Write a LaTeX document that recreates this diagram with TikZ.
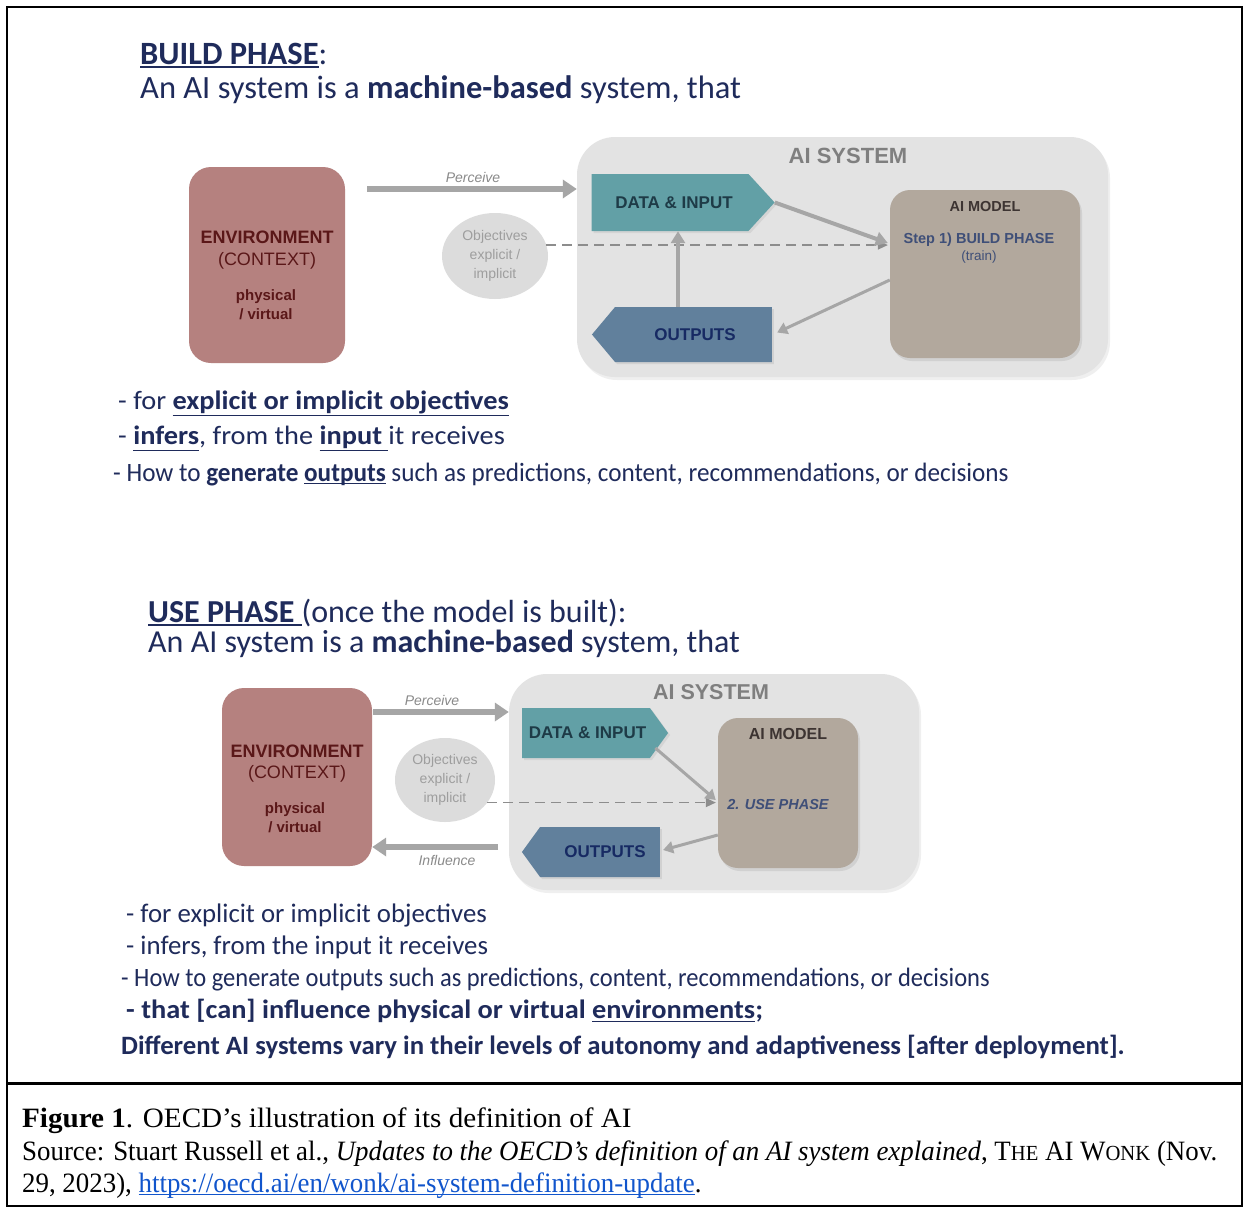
\documentclass[tikz,border=0pt]{standalone}
\usepackage{fontspec}
\setmainfont{Liberation Serif}
\newfontfamily\capA{Liberation Serif}[FakeStretch=1.04]
\newfontfamily\capB{Liberation Serif}[FakeStretch=0.96]
\newfontfamily\slide{Carlito}
\newfontfamily\slideW{Carlito}[FakeStretch=1.07]
\newfontfamily\slideB{Carlito}[FakeStretch=0.95]
\newfontfamily\slideU{Carlito}[FakeStretch=0.925]
\newfontfamily\slideD{Carlito}[FakeStretch=1.01]
\newfontfamily\arf{Liberation Sans}
\usetikzlibrary{shapes.arrows,shapes.symbols,shapes.geometric,arrows.meta,shadows}
\newsavebox{\myulbox}
\newcommand\myul[3][4pt]{\sbox{\myulbox}{#3}\leavevmode\rlap{\rule[-#1]{\wd\myulbox}{#2}}\usebox{\myulbox}}
\definecolor{navy}{HTML}{1F2B5B}
\definecolor{envfill}{HTML}{B5817F}
\definecolor{envtext}{HTML}{5A1718}
\definecolor{sysfill}{HTML}{E3E3E3}
\definecolor{systext}{HTML}{7F7F7F}
\definecolor{datafill}{HTML}{62A0A6}
\definecolor{datatext}{HTML}{1E3B47}
\definecolor{outfill}{HTML}{61809C}
\definecolor{outtext}{HTML}{172A63}
\definecolor{modelfill}{HTML}{B2A89D}
\definecolor{modeltext}{HTML}{3D3432}
\definecolor{steptext}{HTML}{3F4F78}
\definecolor{arrowgray}{HTML}{A6A6A6}
\definecolor{objfill}{HTML}{DCDCDC}
\definecolor{objtext}{HTML}{9E9E9E}
\definecolor{perctext}{HTML}{8A8A8A}
\definecolor{linkblue}{HTML}{1155CC}
\tikzset{
  txt/.style={anchor=base west, inner sep=0pt, navy, font=\slide\fontsize{32}{36}\selectfont},
  bul/.style={anchor=base west, inner sep=0pt, navy, font=\fontsize{26.5}{30}\selectfont},
  captxt/.style={anchor=base west, inner sep=0pt, black, font=\fontsize{28}{32}\selectfont},
  envbox/.style={draw=none, fill=envfill, rounded corners=22pt, align=center, text=envtext, inner sep=0pt},
  sysbox/.style={draw=none, fill=sysfill, rounded corners=38pt, drop shadow={opacity=0.12, shadow xshift=2pt, shadow yshift=-3pt}},
  modelbox/.style={draw=none, fill=modelfill, rounded corners=20pt, drop shadow={opacity=0.18, shadow xshift=2pt, shadow yshift=-3pt}},
  objell/.style={ellipse, draw=none, fill=objfill, align=center, text=objtext, inner sep=0pt, font=\arf\fontsize{14}{19}\selectfont},
  datasig/.style={signal, signal to=east, signal from=nowhere, fill=datafill, draw=none, text=datatext, inner sep=0pt, font=\arf\bfseries\fontsize{17}{20}\selectfont, drop shadow={opacity=0.15, shadow xshift=2pt, shadow yshift=-2pt}},
  outsig/.style={signal, signal to=west, signal from=nowhere, fill=outfill, draw=none, text=outtext, inner sep=0pt, font=\arf\bfseries\fontsize{17}{20}\selectfont, drop shadow={opacity=0.18, shadow xshift=2pt, shadow yshift=-2pt}},
  bigarrow/.style={draw=arrowgray, line width=6pt, -{Triangle[length=14pt,width=18pt]}},
  midarrow/.style={draw=arrowgray, line width=4pt, -{Triangle[length=12pt,width=14pt]}},
  thinarrow/.style={draw=arrowgray, line width=3pt, -{Triangle[length=10pt,width=12pt]}},
  dasharrow/.style={draw=arrowgray!85!black, line width=1.3pt, dash pattern=on 10pt off 6pt, -{Triangle[length=10pt,width=9pt]}},
  lbl/.style={inner sep=0pt, text=perctext, font=\arf\itshape\fontsize{14}{16}\selectfont},
}
\begin{document}
\begin{tikzpicture}[x=1pt,y=-1pt]
\useasboundingbox (0,0) rectangle (1244,1208);
\fill[white] (0,0) rectangle (1244,1208);
% frame
\draw[line width=2.2pt] (7,7) rectangle (1242,1206);
\draw[line width=3pt] (7,1083) -- (1242,1083);

%================ BUILD PHASE =================
\node[txt, font=\slide\fontsize{32.5}{36}\selectfont] (t1) at (140,64) {\myul[4pt]{1.6pt}{\bfseries BUILD PHASE}:};
\node[txt, font=\slide\fontsize{32.5}{36}\selectfont] (t2) at (140,98) {An AI system is a \textbf{machine-based} system, that};

\node[envbox, minimum width=156pt, minimum height=196pt] (env1) at (267,265) {};
\node[text=envtext, font=\arf\bfseries\fontsize{18}{20}\selectfont] (env1a) at (267,237) {ENVIRONMENT};
\node[text=envtext, font=\arf\fontsize{18}{20}\selectfont] (env1b) at (267,261) {(CONTEXT)};
\node[text=envtext, font=\arf\bfseries\fontsize{15}{19}\selectfont, align=center] (env1c) at (266,305) {physical\\/ virtual};

\node[sysbox, minimum width=531pt, minimum height=240pt] (sys1) at (842.5,257) {};
\node[text=systext, font=\arf\bfseries\fontsize{22}{24}\selectfont] (sys1t) at (848,156) {AI SYSTEM};

\node[datasig, minimum width=183pt, minimum height=57pt, signal pointer angle=95] (data1) at (670,202.5) {\hspace*{8pt}DATA \& INPUT};
\node[outsig, minimum width=180pt, minimum height=55pt, signal pointer angle=100] (out1) at (693.5,334.5) {\hspace*{3pt}OUTPUTS};
\node[modelbox, minimum width=190pt, minimum height=168pt] (model1) at (985,274) {};
\node[text=modeltext, font=\arf\bfseries\fontsize{14.5}{16}\selectfont] (model1t) at (985,207) {AI MODEL};
\node[text=steptext, font=\arf\bfseries\fontsize{14.5}{16}\selectfont] (model1s) at (979,240) {Step 1) BUILD PHASE};
\node[text=steptext, font=\arf\fontsize{13.5}{16}\selectfont] (model1r) at (979,257) {(train)};

\node[objell, minimum width=106pt, minimum height=86pt] (obj1) at (495,256) {Objectives\\explicit /\\implicit};

\coordinate (p1s) at (367,189);
\draw[bigarrow] (p1s) -- (p1s -| sys1.west);
\node[lbl] (perc1) at (473,177) {Perceive};

\draw[dasharrow] (obj1.12) -- ([xshift=-2pt]obj1.12 -| model1.west);
\draw[midarrow] (data1.east) -- ([xshift=-2pt,yshift=31pt]model1.west);
\draw[thinarrow] ([yshift=-6pt]model1.west) -- ([xshift=5pt,yshift=2pt]out1.east);
\draw[midarrow] (out1.north -| 678,0) -- (678,0 |- data1.south);

\node[bul, font=\slideW\fontsize{26.5}{30}\selectfont] (b1) at (118,409) {- for \myul[7pt]{1.5pt}{\bfseries explicit or implicit objectives}};
\node[bul, font=\slideW\fontsize{26.5}{30}\selectfont] (b2) at (118,444) {- \myul[7pt]{1.5pt}{\bfseries infers}, from the \myul[7pt]{1.5pt}{\bfseries input }it receives};
\node[bul, font=\slideB\fontsize{26.5}{30}\selectfont] (b3) at (113,481) {- How to \textbf{generate \myul[3pt]{1.5pt}{outputs}} such as predictions, content, recommendations, or decisions};

%================ USE PHASE =================
\node[txt] (u1) at (148,622) {\myul[4pt]{1.6pt}{\bfseries USE PHASE }(once the model is built):};
\node[txt] (u2) at (148,652) {An AI system is a \textbf{machine-based} system, that};

\node[envbox, minimum width=150pt, minimum height=178pt] (env2) at (297,777) {};
\node[text=envtext, font=\arf\bfseries\fontsize{18}{20}\selectfont] (env2a) at (297,751) {ENVIRONMENT};
\node[text=envtext, font=\arf\fontsize{18}{20}\selectfont] (env2b) at (297,774) {(CONTEXT)};
\node[text=envtext, font=\arf\bfseries\fontsize{15}{19}\selectfont, align=center] (env2c) at (295,818) {physical\\/ virtual};

\node[sysbox, minimum width=410pt, minimum height=216pt] (sys2) at (714,782) {};
\node[text=systext, font=\arf\bfseries\fontsize{21.5}{24}\selectfont] (sys2t) at (711,692) {AI SYSTEM};

\node[datasig, minimum width=146pt, minimum height=50pt, signal pointer angle=108] (data2) at (586,733) {\hspace*{3pt}DATA \& INPUT};
\node[outsig, minimum width=138pt, minimum height=50pt, signal pointer angle=108] (out2) at (600,852) {\hspace*{10pt}OUTPUTS};
\node[modelbox, minimum width=140pt, minimum height=150pt] (model2) at (788,793) {};
\node[text=modeltext, font=\arf\bfseries\fontsize{16}{18}\selectfont] (model2t) at (788,734) {AI MODEL};
\node[text=steptext, font=\arf\bfseries\itshape\fontsize{14.5}{16}\selectfont] (model2s) at (778,804) {2. USE PHASE};

\node[objell, minimum width=100pt, minimum height=84pt] (obj2) at (445,780) {Objectives\\explicit /\\implicit};

\coordinate (p2s) at (373,712);
\draw[bigarrow] (p2s) -- (p2s -| sys2.west);
\node[lbl] (perc2) at (432,700) {Perceive};
\coordinate (i2s) at (498,847);
\draw[bigarrow] (i2s) -- (i2s -| env2.east);
\node[lbl] (infl2) at (447,860) {Influence};

\draw[dasharrow] (obj2.-28) -- ([xshift=-2pt]obj2.-28 -| model2.west);
\draw[thinarrow] ([xshift=-13pt,yshift=-15pt]data2.east) -- ([xshift=-2pt,yshift=-7pt]model2.west);
\draw[thinarrow] ([yshift=-42pt]model2.west) -- ([xshift=3pt,yshift=2pt]out2.east);

\node[bul, font=\slide\fontsize{26.8}{30}\selectfont] (c1) at (126,922) {- for explicit or implicit objectives};
\node[bul, font=\slide\fontsize{26.8}{30}\selectfont] (c2) at (126,954) {- infers, from the input it receives};
\node[bul, font=\slideU\fontsize{26.5}{30}\selectfont] (c3) at (121,986) {- How to generate outputs such as predictions, content, recommendations, or decisions};
\node[bul, font=\slideW\fontsize{26.5}{30}\selectfont] (c4) at (126,1018) {\bfseries - that [can] influence physical or virtual \myul[4pt]{1.5pt}{environments};};
\node[bul, font=\slideD\fontsize{26.5}{30}\selectfont] (c5) at (121,1054) {\bfseries Different AI systems vary in their levels of autonomy and adaptiveness [after deployment].};

%================ CAPTION =================
\node[captxt, font=\capA\fontsize{28}{32}\selectfont] (f1) at (22,1127) {\textbf{Figure 1}. OECD’s illustration of its definition of AI};
\node[captxt, font=\capB\fontsize{28}{32}\selectfont] (f2) at (22,1160) {Source: Stuart Russell et al., \textit{Updates to the OECD’s definition of an AI system explained}, T{\fontsize{21.5}{24}\selectfont HE} AI W{\fontsize{21.5}{24}\selectfont ONK} (Nov.};
\node[captxt, font=\capB\fontsize{28}{32}\selectfont] (f3) at (22,1192) {29, 2023), \textcolor{linkblue}{\myul[3pt]{1.2pt}{https://oecd.ai/en/wonk/ai-system-definition-update}}.};
\end{tikzpicture}
\end{document}
